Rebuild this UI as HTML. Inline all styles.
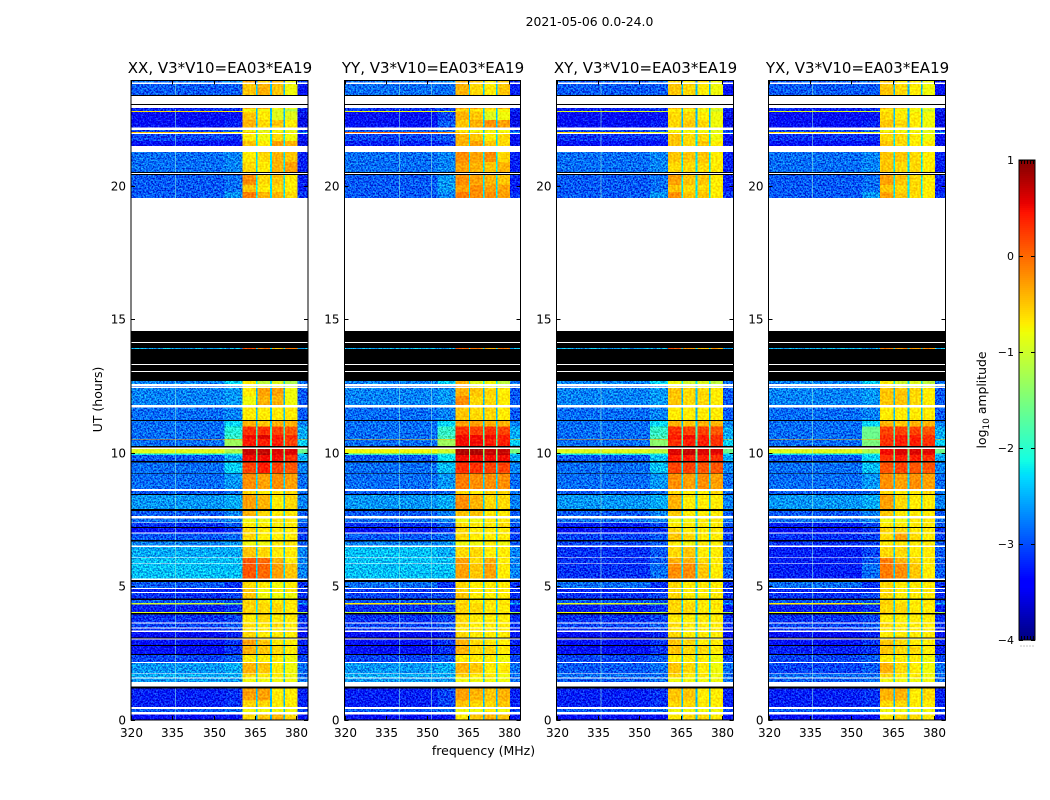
<!DOCTYPE html>
<html lang="en">
<head>
<meta charset="utf-8">
<title>2021-05-06 amplitude waterfall</title>
<style>
html,body{margin:0;padding:0;background:#fff;}
svg{display:block;}
text{font-family:"DejaVu Sans","Liberation Sans",sans-serif;fill:#000;}
</style>
</head>
<body>
<svg id="figure" xmlns="http://www.w3.org/2000/svg" width="1050" height="800" viewBox="0 0 1050 800">
<defs>
<filter id="speckle" x="0" y="0" width="100%" height="100%" color-interpolation-filters="sRGB">
<feTurbulence type="fractalNoise" baseFrequency="0.6" numOctaves="2" seed="7" result="n"/>
<feColorMatrix in="n" type="matrix" values="1 0 0 0 0  3 0 0 0 -1  2 0 0 0 -0.5  0 0 0 0 1" result="g"/>
<feComposite in="SourceGraphic" in2="g" operator="arithmetic" k1="0" k2="1" k3="0.55" k4="-0.275" result="c"/>
<feComposite in="c" in2="SourceGraphic" operator="in"/>
</filter>
<filter id="speckle-soft" x="0" y="0" width="100%" height="100%" color-interpolation-filters="sRGB">
<feTurbulence type="fractalNoise" baseFrequency="0.5" numOctaves="1" seed="3" result="n"/>
<feColorMatrix in="n" type="matrix" values="1 0 0 0 0  3 0 0 0 -1  1 0 0 0 0  0 0 0 0 1" result="g"/>
<feComposite in="SourceGraphic" in2="g" operator="arithmetic" k1="0" k2="1" k3="0.2" k4="-0.1" result="c"/>
<feComposite in="c" in2="SourceGraphic" operator="in"/>
</filter>
</defs>
<rect x="0" y="0" width="1050" height="800" fill="#fff"/>
<text x="589.5" y="26" font-size="12.4" text-anchor="middle">2021-05-06 0.0-24.0</text>
<text x="483.5" y="755" font-size="12.5" text-anchor="middle">frequency (MHz)</text>
<text x="0" y="0" font-size="12.5" text-anchor="middle" transform="translate(102,399.5) rotate(-90)">UT (hours)</text>
<text x="0" y="0" font-size="12.4" text-anchor="middle" transform="translate(986,400) rotate(-90)">log<tspan font-size="9" dy="3">10</tspan><tspan dy="-3"> amplitude</tspan></text>
<g id="panels"></g>
<g id="colorbar"></g>
</svg>
<script>
// Row edges in UT hours, top of the plot to the bottom.
const utEdges = [23.93,23.86,23.80,23.39,23.35,23.05,23.01,22.91,22.87,22.79,22.75,22.45,22.18,22.08,22.01,21.97,21.93,21.67,21.48,21.25,20.88,20.51,20.47,20.43,20.39,20.02,19.76,19.54,14.55,14.14,14.10,13.92,13.88,13.31,13.28,13.05,13.01,12.68,12.57,12.50,12.48,12.42,12.12,11.77,11.69,11.22,11.18,10.97,10.66,10.51,10.48,10.24,10.19,10.13,9.97,9.91,9.68,9.63,9.24,9.21,8.63,8.55,8.45,8.40,7.88,7.81,7.62,7.52,7.38,7.36,7.21,7.17,7.00,6.96,6.72,6.66,6.51,6.47,6.07,6.04,5.87,5.84,5.29,5.22,5.15,4.93,4.89,4.78,4.73,4.54,4.48,4.37,4.30,4.03,3.98,3.93,3.63,3.59,3.44,3.40,3.33,3.27,3.08,3.04,3.00,2.79,2.76,2.45,2.42,2.15,2.12,1.73,1.70,1.57,1.53,1.40,1.23,1.17,0.72,0.46,0.39,0.29,0.19,0];
// d = data row, w = flagged (white), k = zero amplitude (black).
const rowKinds = ("d w d k w k w  d d d d d w  d d w  d d w  d d k w k  d d d w  k w k d k w k w k  d w d w d d w  d k  d d d d d k w  d d d k  d k d w  d k d k d w  d w d k d w d k d w  d w d w d w k  d w d w d k  d d d d k  d w d w d w d k w  d k d k d w  d w d w d w k  d d w d w d").split(/\s+/);
// Frequency edges (MHz) of the channel blocks.
const freqEdges = [320,354,360.5,365.4,365.8,370.5,371.1,375.3,375.9,380.4,384.2];
// Which value slot of a row each channel block reads.
const columnSlots = [0,1,2,6,3,6,4,6,5,7];
// Row values in tenths of log10 amplitude: low, mid, band1, band2, band3, band4, gap, right.
const xxAmp = [
[-27,-26,-4,-7,-5,-9,-25,-30],[-28,-28,-6,-5,-6,-9,-22,-32],[-31,-30,-5,-4,-8,-9,-22,-30],[-30,-30,-9,-9,-10,-13,-22,-31],
[-6,-7,-8,-8,-10,-11,-22,-30],[-33,-32,-6,-8,-10,-10,-22,-34],[-33,-31,-5,-7,-6,-8,-22,-34],[-29,-28,-9,-10,-9,-10,-22,-30],
[-5,-7,-5,-8,-8,-8,-20,-24],[-29,-30,-8,-9,-7,-9,-20,-32],[-32,-32,-6,-8,-4,-5,-20,-34],[-27,-26,-8,-7,-5,-6,-20,-31],
[-27,-26,-7,-8,-5,-4,-20,-31],[-28,-27,-3,-7,-6,-8,-20,-31],[-28,-27,-6,-8,-7,-8,-20,-31],[-28,-25,-2,-5,-5,-7,-20,-30],
[-24,-24,0,-2,-5,-2,-20,-24],[-26,-22,-8,-12,-10,-13,-20,-27],[-28,-27,-9,-9,-9,-11,-20,-28],[-26,-25,-8,-4,-4,-9,-22,-28],
[-26,-25,-9,-5,-5,-9,-22,-28],[-27,-26,-8,-8,-8,-8,-22,-28],[-27,-22,-5,-6,-5,-5,-21,-26],[-27,-19,2,2,1,0,-16,-24],
[-27,-18,4,5,3,2,-15,-24],[-2,-2,3,3,3,2,-2,-2],[-27,-13,3,3,3,1,-17,-22],[-9,-12,6,6,5,5,-12,-16],
[-20,-20,6,7,5,5,-14,-22],[-28,-24,4,4,4,2,-16,-24],[-27,-22,1,3,1,0,-20,-26],[-27,-25,-3,-4,-3,-4,-21,-27],
[-28,-27,-7,-8,-8,-7,-21,-27],[-25,-24,-4,-5,-8,-7,-21,-26],[-28,-26,-5,-7,-8,-8,-21,-28],[-27,-26,-9,-9,-8,-8,-21,-27],
[-30,-28,-8,-8,-8,-8,-21,-28],[-32,-30,-7,-8,-8,-8,-21,-30],[-28,-27,-7,-8,-8,-8,-21,-29],[-26,-25,-9,-9,-8,-8,-21,-28],
[-24,-24,-6,-7,-8,-8,-21,-26],[-23,-23,0,-1,-5,-8,-21,-26],[-23,-23,0,-1,-4,-6,-21,-26],[-28,-30,-7,-8,-9,-8,-21,-30],
[-31,-30,-6,-9,-8,-8,-21,-30],[-30,-29,-6,-9,-9,-9,-21,-30],[-28,-28,-7,-8,-8,-8,-21,-29],[-10,-14,-6,-7,-7,-7,-20,-24],
[-31,-30,-7,-7,-7,-8,-21,-31],[-9,-12,-6,-7,-7,-7,-17,-12],[-30,-29,-8,-7,-8,-8,-21,-30],[-29,-28,-7,-8,-7,-8,-21,-30],
[-30,-29,-8,-8,-8,-8,-21,-31],[-33,-31,-7,-8,-8,-8,-21,-32],[-32,-30,-4,-6,-8,-8,-21,-31],[-32,-30,-5,-6,-7,-8,-21,-31],
[-29,-28,-8,-8,-8,-9,-21,-29],[-25,-24,-5,-6,-8,-9,-21,-27],[-24,-24,-7,-8,-8,-9,-21,-27],[-25,-25,-9,-9,-9,-9,-21,-27],
[-31,-30,-4,-4,-8,-8,-22,-31],[-31,-30,-7,-7,-8,-8,-22,-31],[-28,-27,-9,-9,-9,-9,-21,-29],[-33,-32,-7,-6,-5,-7,-22,-33]
];
const yyAmp = [
[-27,-26,-5,-6,-8,-6,-24,-30],[-27,-27,-5,-7,-8,-6,-21,-31],[-30,-29,-4,-4,-7,-4,-21,-30],[-30,-29,-7,-8,-8,-9,-21,-31],
[-8,-9,-6,-7,-9,-8,-21,-30],[-32,-29,-5,-6,-10,-9,-21,-34],[-32,-28,-6,-5,-3,-4,-21,-34],[-28,-27,-8,-9,-9,-9,-21,-29],
[0,-2,-6,-7,-8,-8,-20,-25],[-29,-28,-5,-6,-8,-7,-20,-32],[-31,-30,-5,-4,-6,-7,-20,-34],[-27,-26,-3,-4,-3,-7,-20,-31],
[-27,-26,-4,-5,-6,-5,-20,-31],[-28,-25,-3,-4,-5,-6,-20,-31],[-28,-25,-4,-3,-4,-4,-20,-31],[-28,-26,-2,-3,-3,-4,-20,-30],
[-24,-24,-1,-2,-4,-2,-20,-24],[-26,-22,-5,-10,-9,-12,-20,-27],[-28,-27,-4,-9,-9,-10,-20,-28],[-26,-25,-5,-6,-7,-8,-22,-28],
[-26,-25,-3,-7,-7,-8,-22,-28],[-27,-26,-6,-7,-7,-8,-22,-28],[-27,-22,-4,-4,-5,-5,-21,-26],[-27,-18,2,1,2,1,-16,-24],
[-27,-17,4,4,4,3,-14,-24],[-4,-4,4,4,3,3,-2,-3],[-27,-13,4,4,3,3,-15,-22],[-8,-10,7,7,6,6,-11,-15],
[-18,-19,7,7,6,6,-13,-22],[-28,-21,4,4,4,4,-15,-24],[-27,-23,2,2,1,1,-20,-26],[-27,-25,-2,-3,-3,-3,-21,-27],
[-28,-27,-7,-8,-7,-7,-21,-27],[-25,-24,-3,-5,-7,-7,-21,-26],[-28,-26,-6,-6,-8,-8,-21,-28],[-27,-26,-9,-9,-8,-8,-21,-27],
[-30,-28,-7,-8,-8,-7,-21,-28],[-32,-30,-7,-8,-8,-8,-21,-30],[-28,-27,-7,-8,-8,-8,-21,-29],[-26,-25,-9,-9,-8,-9,-21,-28],
[-23,-24,-7,-7,-8,-8,-21,-26],[-23,-23,-4,-7,-5,-8,-21,-26],[-23,-23,-4,-6,-4,-8,-21,-26],[-27,-30,-7,-8,-8,-8,-21,-30],
[-30,-29,-7,-8,-8,-8,-21,-30],[-29,-29,-6,-8,-8,-8,-21,-30],[-28,-28,-7,-8,-8,-8,-21,-29],[-7,-11,-6,-7,-7,-7,-20,-24],
[-30,-29,-7,-7,-8,-8,-21,-31],[-11,-14,-6,-7,-7,-8,-18,-13],[-30,-29,-7,-8,-8,-8,-21,-30],[-29,-28,-7,-8,-8,-8,-21,-30],
[-30,-29,-8,-8,-8,-8,-21,-31],[-33,-31,-7,-8,-8,-8,-21,-32],[-32,-30,-5,-7,-8,-8,-21,-31],[-32,-30,-5,-7,-7,-8,-21,-31],
[-29,-28,-8,-8,-8,-9,-21,-29],[-25,-24,-5,-6,-8,-8,-21,-27],[-24,-24,-7,-8,-8,-9,-21,-27],[-25,-25,-9,-9,-9,-9,-21,-27],
[-31,-29,-4,-5,-6,-5,-22,-31],[-31,-29,-6,-7,-7,-6,-22,-31],[-28,-27,-9,-9,-8,-9,-21,-29],[-33,-32,-8,-6,-5,-6,-22,-33]
];
const xyAmp = [
[-28,-27,-7,-8,-7,-9,-25,-31],[-28,-28,-6,-7,-8,-9,-22,-32],[-31,-30,-5,-5,-8,-9,-22,-31],[-31,-30,-8,-9,-9,-11,-22,-31],
[-9,-10,-8,-8,-9,-10,-22,-30],[-33,-32,-7,-7,-8,-9,-22,-34],[-33,-31,-7,-6,-7,-9,-22,-34],[-29,-28,-9,-9,-9,-10,-22,-30],
[-6,-9,-7,-8,-8,-9,-20,-25],[-30,-30,-6,-7,-7,-9,-20,-32],[-32,-32,-6,-7,-6,-8,-20,-34],[-27,-26,-6,-6,-6,-8,-20,-31],
[-27,-26,-7,-7,-7,-8,-20,-31],[-28,-27,-4,-6,-6,-8,-20,-31],[-28,-27,-6,-7,-7,-8,-20,-31],[-28,-25,-3,-6,-6,-8,-20,-30],
[-24,-24,0,-3,-5,-4,-20,-24],[-26,-22,-9,-11,-10,-12,-20,-27],[-28,-27,-8,-9,-9,-10,-20,-28],[-26,-25,-6,-7,-7,-8,-22,-28],
[-26,-25,-6,-7,-7,-8,-22,-28],[-27,-26,-8,-8,-8,-8,-22,-28],[-27,-22,-5,-6,-5,-5,-21,-26],[-27,-18,2,1,1,0,-16,-24],
[-27,-17,3,4,3,2,-15,-24],[-2,-2,3,3,3,2,-3,-3],[-27,-14,2,3,3,2,-17,-22],[-9,-11,5,6,5,5,-12,-16],
[-20,-20,5,6,5,4,-14,-22],[-28,-23,3,3,3,2,-16,-24],[-27,-23,1,1,0,0,-20,-26],[-27,-25,-3,-4,-3,-4,-21,-27],
[-28,-27,-7,-8,-8,-7,-21,-27],[-25,-24,-5,-8,-8,-8,-21,-26],[-28,-26,-6,-8,-8,-8,-21,-28],[-27,-26,-9,-9,-8,-8,-21,-27],
[-31,-29,-8,-8,-8,-8,-21,-28],[-32,-30,-7,-8,-8,-8,-21,-30],[-29,-28,-6,-7,-8,-8,-21,-29],[-29,-28,-8,-9,-8,-8,-21,-28],
[-30,-28,-7,-6,-8,-8,-21,-28],[-30,-28,-5,-5,-7,-8,-21,-28],[-30,-27,-3,-3,-6,-8,-21,-28],[-27,-30,-7,-8,-8,-8,-21,-30],
[-31,-30,-7,-8,-8,-8,-21,-30],[-30,-29,-7,-8,-8,-8,-21,-30],[-28,-28,-7,-8,-8,-8,-21,-29],[-9,-13,-6,-7,-7,-7,-20,-24],
[-31,-30,-7,-7,-8,-8,-21,-31],[-8,-11,-6,-7,-7,-8,-17,-12],[-30,-29,-8,-8,-8,-8,-21,-30],[-29,-28,-7,-8,-8,-8,-21,-30],
[-30,-29,-8,-8,-8,-8,-21,-31],[-33,-31,-7,-8,-8,-8,-21,-32],[-32,-30,-6,-7,-8,-8,-21,-31],[-32,-30,-6,-7,-7,-8,-21,-31],
[-29,-28,-8,-8,-8,-9,-21,-29],[-28,-27,-6,-7,-8,-9,-21,-27],[-27,-27,-7,-8,-8,-9,-21,-27],[-28,-27,-9,-9,-9,-9,-21,-27],
[-31,-30,-6,-6,-8,-8,-22,-31],[-31,-30,-7,-7,-8,-8,-22,-31],[-28,-27,-9,-9,-9,-9,-21,-29],[-33,-32,-8,-7,-7,-8,-22,-33]
];
const yxAmp = [
[-28,-27,-6,-8,-8,-9,-25,-31],[-28,-28,-6,-7,-8,-9,-22,-32],[-31,-30,-5,-6,-8,-9,-22,-31],[-31,-30,-8,-9,-9,-11,-22,-31],
[-9,-10,-8,-8,-9,-10,-22,-30],[-33,-32,-7,-8,-8,-9,-22,-34],[-33,-31,-6,-7,-8,-9,-22,-34],[-29,-28,-9,-9,-9,-10,-22,-30],
[-6,-9,-7,-8,-8,-9,-20,-25],[-30,-30,-7,-7,-8,-9,-20,-32],[-32,-32,-6,-7,-8,-8,-20,-34],[-27,-26,-6,-6,-7,-8,-20,-31],
[-27,-26,-6,-7,-7,-8,-20,-31],[-28,-27,-4,-6,-7,-8,-20,-31],[-28,-27,-6,-7,-7,-8,-20,-31],[-28,-25,-4,-6,-7,-8,-20,-30],
[-24,-24,-2,-3,-4,-3,-20,-24],[-26,-22,-8,-11,-10,-12,-20,-27],[-28,-27,-8,-9,-9,-10,-20,-28],[-26,-25,-6,-6,-7,-8,-22,-28],
[-26,-25,-6,-6,-7,-8,-22,-28],[-27,-26,-8,-8,-8,-8,-22,-28],[-27,-22,-5,-6,-5,-5,-21,-26],[-27,-16,1,1,1,0,-16,-24],
[-27,-16,2,3,3,2,-15,-24],[-3,-3,2,3,3,2,-3,-3],[-27,-15,2,3,3,2,-17,-22],[-9,-12,4,5,5,5,-12,-16],
[-21,-20,4,5,5,4,-14,-22],[-28,-22,2,3,3,2,-16,-24],[-27,-23,0,1,0,0,-20,-26],[-27,-25,-3,-4,-3,-4,-21,-27],
[-28,-27,-7,-8,-8,-7,-21,-27],[-25,-24,-4,-7,-8,-8,-21,-26],[-28,-26,-6,-8,-8,-8,-21,-28],[-27,-26,-9,-9,-8,-8,-21,-27],
[-31,-29,-8,-8,-8,-8,-21,-28],[-32,-30,-7,-7,-8,-8,-21,-30],[-30,-29,-7,-4,-7,-8,-21,-29],[-30,-29,-8,-8,-8,-8,-21,-28],
[-31,-29,-7,-7,-8,-8,-21,-28],[-31,-28,-2,-5,-7,-8,-21,-28],[-31,-27,-2,-3,-6,-8,-21,-28],[-27,-30,-7,-8,-8,-8,-21,-30],
[-31,-30,-7,-8,-8,-8,-21,-30],[-30,-29,-7,-8,-8,-8,-21,-30],[-28,-28,-7,-8,-8,-8,-21,-29],[-7,-11,-6,-7,-7,-7,-20,-24],
[-31,-30,-7,-7,-8,-8,-21,-31],[-8,-10,-6,-7,-7,-8,-17,-12],[-30,-29,-8,-8,-8,-8,-21,-30],[-29,-28,-7,-8,-8,-8,-21,-30],
[-30,-29,-8,-8,-8,-8,-21,-31],[-33,-31,-8,-8,-8,-8,-21,-32],[-32,-30,-6,-7,-8,-8,-21,-31],[-31,-30,-6,-7,-7,-8,-21,-31],
[-29,-28,-8,-8,-8,-9,-21,-29],[-29,-28,-5,-7,-8,-9,-21,-27],[-27,-27,-7,-8,-8,-9,-21,-27],[-28,-27,-9,-9,-9,-9,-21,-27],
[-31,-30,-5,-5,-8,-7,-22,-31],[-31,-30,-7,-7,-8,-8,-22,-31],[-28,-27,-9,-9,-9,-9,-21,-29],[-33,-32,-8,-7,-7,-8,-22,-33]
];
// Channels showing as faint vertical lines (MHz) per polarisation.
const xxChannels = [336];
const yyChannels = [339.8,351.6];
const xyChannels = [336];
const yxChannels = [335.8];
// Axis ticks.
const freqTicks = [320,335,350,365,380];
const utTicks = [0,5,10,15,20];
const cbarTicks = [-4,-3,-2,-1,0,1];
const cbarMinorTicks = [0,1,2,3,4];
// Polarisation names.
const polNames = ["XX","YY","XY","YX"];
const baselineLabel = "V3*V10=EA03*EA19";

const NS = "http://www.w3.org/2000/svg";
const panelLefts = [131,344.5,556.5,768.5];
const panelWidths = [177,176,177,177];
const bandCalibration = 1;
const gapCalibration = -2.5;
const backgroundCalibration = -1.5;
const freqMin = 320, freqMax = 384.2;
const plotTop = 80.5, plotBottom = 720;
const vmin = -4, vmax = 1;
const hourPx = 26.7;

function yOf(ut){ return 719.5 - ut * hourPx; }
function jetChannel(t, a, b, c, d){
  if (t < a) return 0;
  if (t < b) return (t - a) / (b - a);
  if (t < c) return 1;
  if (t < d) return 1 - (t - c) / (d - c);
  return 0;
}
function jet(v){
  const t = Math.max(0, Math.min(1, (v - vmin) / (vmax - vmin)));
  const r = t < 0.89 ? jetChannel(t, 0.35, 0.66, 2, 3) : 1 - (t - 0.89) / 0.11 * 0.5;
  const g = jetChannel(t, 0.125, 0.375, 0.64, 0.91);
  const b = t < 0.11 ? 0.5 + t / 0.11 * 0.5 : jetChannel(t, -1, 0, 0.34, 0.65);
  return "rgb(" + Math.round(r * 255) + "," + Math.round(g * 255) + "," + Math.round(b * 255) + ")";
}
function calibrated(raw, slot){
  if (slot >= 2 && slot <= 5) return raw + bandCalibration;
  if (slot === 6) return raw + gapCalibration;
  return raw < -16 ? raw + backgroundCalibration : raw;
}
function mk(tag, parent, attrs){
  const el = document.createElementNS(NS, tag);
  for (const k in attrs) el.setAttribute(k, attrs[k]);
  parent.appendChild(el);
  return el;
}

const panelsRoot = document.getElementById("panels");
const grids = [xxAmp, yyAmp, xyAmp, yxAmp];
const channelLists = [xxChannels, yyChannels, xyChannels, yxChannels];

polNames.forEach(function(pol, p){
  const left = panelLefts[p];
  const panelW = panelWidths[p];
  function xOf(f){ return left + (f - freqMin) / (freqMax - freqMin) * panelW; }
  const grid = grids[p];
  const panel = mk("g", panelsRoot, {});
  
  
  const noisy = mk("g", panel, {filter: "url(#speckle)", "shape-rendering": "crispEdges"});
  
  
  const soft = mk("g", panel, {filter: "url(#speckle-soft)", "shape-rendering": "crispEdges"});
  
  
  const plain = mk("g", panel, {"shape-rendering": "crispEdges"});
  
  
  const lines = mk("g", panel, {"shape-rendering": "crispEdges"});
  
  

  let d = 0;
  rowKinds.forEach(function(kind, r){
    const y0 = yOf(utEdges[r]);
    const y1 = Math.min(yOf(utEdges[r + 1]), plotBottom);
    if (kind === "k") {
      const bar = mk("rect", plain, {x: left, y: y0, width: panelW, height: y1 - y0, fill: "#000"});
      
      
    } else if (kind === "d") {
      const row = grid[d++];
      columnSlots.forEach(function(slot, c){
        const v = calibrated(row[slot], slot) / 10;
        const x0 = xOf(freqEdges[c]);
        const x1 = xOf(freqEdges[c + 1]);
        const target = v < -1.6 && slot !== 6 && !(slot >= 2 && slot <= 5) ? noisy : soft;
        const cell = mk("rect", target, {x: x0, y: y0, width: x1 - x0, height: y1 - y0, fill: jet(v)});
        
        
      });
      if (y1 - y0 > 2) {
        channelLists[p].forEach(function(f){
          const ln = mk("rect", lines, {x: xOf(f), y: y0, width: 1, height: y1 - y0, fill: "#8ff5e0", opacity: 0.55});
          
          
        });
      }
    }
  });

  const frame = mk("rect", panel, {x: left, y: plotTop, width: panelW, height: plotBottom - plotTop, fill: "none", stroke: "#000", "stroke-width": 1});
  
  

  const title = mk("text", panel, {x: left + panelW / 2 + 0.5, y: 73, "font-size": 15, "text-anchor": "middle"});
  
  
  title.textContent = pol + ", " + baselineLabel;

  freqTicks.forEach(function(f){
    const x = Math.round(xOf(f)) + 0.5;
    const tb = mk("line", panel, {x1: x, x2: x, y1: plotBottom, y2: plotBottom - 4, stroke: "#000"});
    
    
    const tt = mk("line", panel, {x1: x, x2: x, y1: plotTop, y2: plotTop + 4, stroke: "#000"});
    
    
    const lb = mk("text", panel, {x: x, y: 737, "font-size": 12, "text-anchor": "middle"});
    
    
    lb.textContent = f;
  });
  utTicks.forEach(function(u){
    const y = Math.round(yOf(u)) + 0.5;
    const tl = mk("line", panel, {x1: left, x2: left + 4, y1: y, y2: y, stroke: "#000"});
    
    
    const tr = mk("line", panel, {x1: left + panelW, x2: left + panelW - 4, y1: y, y2: y, stroke: "#000"});
    
    
    const lb = mk("text", panel, {x: left - 5, y: y + 4, "font-size": 12, "text-anchor": "end"});
    
    
    lb.textContent = u;
  });
});

// Colorbar
const cbRoot = document.getElementById("colorbar");
const cbX = 1019, cbW = 16, cbTop = 160, cbBottom = 640;
function cbY(v){ return cbBottom - (v - vmin) / (vmax - vmin) * (cbBottom - cbTop); }
const cbCells = mk("g", cbRoot, {"shape-rendering": "crispEdges"});


for (let py = cbTop; py < cbBottom; py += 2) {
  const v = vmin + (cbBottom - py - 1) / (cbBottom - cbTop) * (vmax - vmin);
  const seg = mk("rect", cbCells, {x: cbX, y: py, width: cbW, height: 2, fill: jet(v)});
  
  
}
const cbFrame = mk("rect", cbRoot, {x: cbX, y: cbTop, width: cbW, height: cbBottom - cbTop, fill: "none", stroke: "#000", "stroke-width": 1});


cbarTicks.forEach(function(v){
  const y = Math.round(cbY(v)) + 0.5;
  const t1 = mk("line", cbRoot, {x1: cbX, x2: cbX + 4, y1: y, y2: y, stroke: "#000"});
  
  
  const t2 = mk("line", cbRoot, {x1: cbX + cbW, x2: cbX + cbW - 4, y1: y, y2: y, stroke: "#000"});
  
  
  const lb = mk("text", cbRoot, {x: 1014, y: y + 3.5, "font-size": 11, "text-anchor": "end"});
  
  
  lb.textContent = v < 0 ? "\u2212" + Math.abs(v) : String(v);
});
cbarMinorTicks.forEach(function(i){
  const x = Math.round(cbX + (i + 0.5) / cbarMinorTicks.length * cbW) + 0.5;
  const m1 = mk("line", cbRoot, {x1: x, x2: x, y1: cbTop, y2: cbTop + 4, stroke: "#000"});
  
  
  const m2 = mk("line", cbRoot, {x1: x, x2: x, y1: cbBottom, y2: cbBottom - 4, stroke: "#000"});
  
  
  const dot = mk("rect", cbRoot, {x: x - 1, y: 645.5, width: 1, height: 1, fill: "#888"});
  
  
});
</script>
</body>
</html>
